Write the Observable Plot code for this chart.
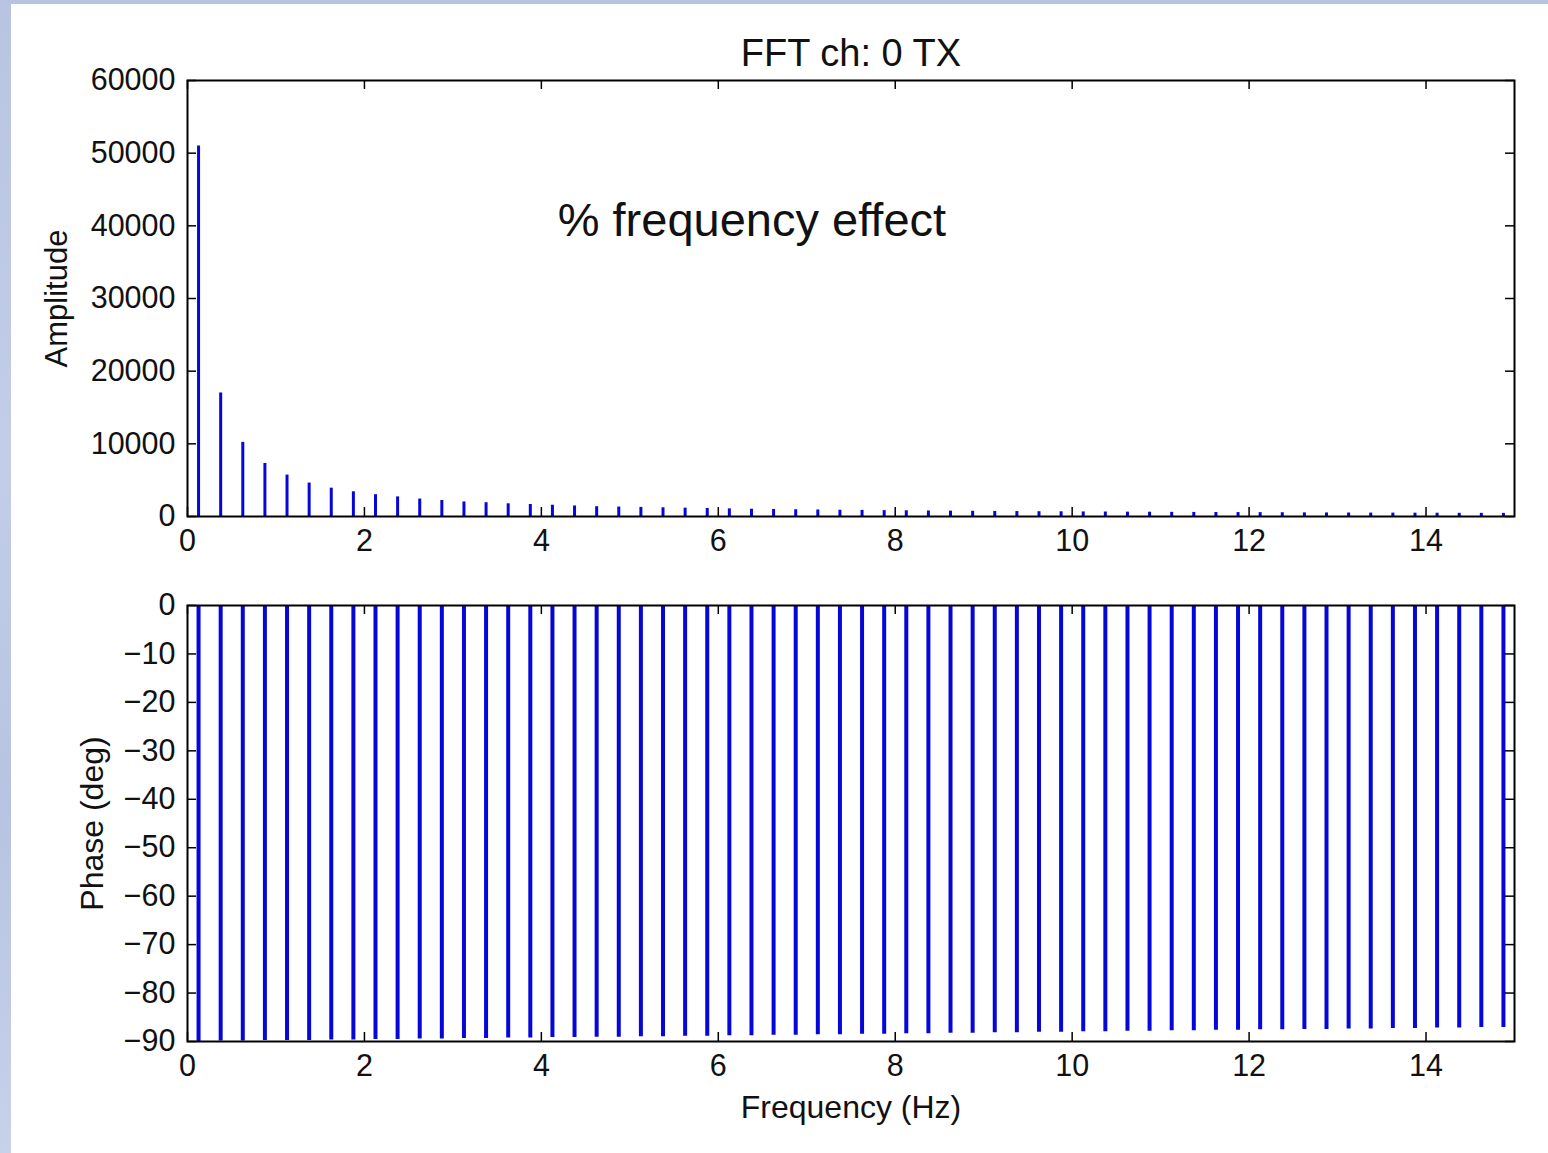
<!DOCTYPE html>
<html>
<head>
<meta charset="utf-8">
<script src="https://cdn.jsdelivr.net/npm/d3@7"></script>
<script src="https://cdn.jsdelivr.net/npm/@observablehq/plot@0.6"></script>
<style>
  html, body { margin: 0; padding: 0; }
  body { width: 1548px; height: 1153px; position: relative; overflow: hidden;
         background: linear-gradient(180deg, #b9c4e2 0%, #c3cde8 40%, #b7c3e2 70%, #c8d1ea 100%);
         font-family: "Liberation Sans", Arial, sans-serif; }
  #sheet { position: absolute; left: 11px; top: 4px; width: 1537px; height: 1149px; background: #ffffff; }
  .panel { position: absolute; left: 0; }
</style>
</head>
<body>
<div id="sheet"></div>
<div id="top" class="panel" style="top:0px"></div>
<div id="bottom" class="panel" style="top:560px"></div>
<script>
// ---- data ----
const freqHz = [
  0.125, 0.375, 0.625, 0.875, 1.125, 1.375, 1.625, 1.875, 2.125, 2.375,
  2.625, 2.875, 3.125, 3.375, 3.625, 3.875, 4.125, 4.375, 4.625, 4.875,
  5.125, 5.375, 5.625, 5.875, 6.125, 6.375, 6.625, 6.875, 7.125, 7.375,
  7.625, 7.875, 8.125, 8.375, 8.625, 8.875, 9.125, 9.375, 9.625, 9.875,
  10.125, 10.375, 10.625, 10.875, 11.125, 11.375, 11.625, 11.875, 12.125, 12.375,
  12.625, 12.875, 13.125, 13.375, 13.625, 13.875, 14.125, 14.375, 14.625, 14.875
];
const amplitude = [
  51000, 17000, 10200, 7300, 5700, 4600, 3900, 3400, 3000, 2700,
  2400, 2200, 2000, 1900, 1750, 1650, 1550, 1450, 1350, 1300,
  1250, 1200, 1150, 1100, 1050, 1000, 970, 930, 900, 860,
  840, 810, 790, 760, 740, 720, 700, 680, 660, 650,
  630, 620, 600, 590, 570, 560, 550, 540, 530, 520,
  500, 490, 480, 470, 465, 460, 450, 440, 435, 430
];
const phaseDeg = [
  -90.0, -89.9, -89.9, -89.8, -89.8, -89.8, -89.7, -89.7, -89.6, -89.6,
  -89.5, -89.5, -89.4, -89.4, -89.3, -89.3, -89.2, -89.2, -89.1, -89.1,
  -89.0, -89.0, -88.9, -88.9, -88.8, -88.8, -88.7, -88.7, -88.6, -88.6,
  -88.5, -88.5, -88.4, -88.4, -88.3, -88.3, -88.2, -88.2, -88.1, -88.1,
  -88.0, -88.0, -87.9, -87.9, -87.8, -87.8, -87.7, -87.7, -87.6, -87.6,
  -87.5, -87.5, -87.4, -87.4, -87.3, -87.3, -87.2, -87.2, -87.1, -87.1
];
const xTicks = [0, 2, 4, 6, 8, 10, 12, 14];
const ampTicks = [0, 10000, 20000, 30000, 40000, 50000, 60000];
const phaseTicks = [0, -10, -20, -30, -40, -50, -60, -70, -80, -90];
const titleText = "FFT ch: 0 TX";
const annotation = { text: "% frequency effect", freq: 6.38, amp: 40700 };
const xLabel = "Frequency (Hz)";
const ampLabel = "Amplitude";
const phaseLabel = "Phase (deg)";

const rows = freqHz.map((f, i) => ({ f, amp: amplitude[i], phase: phaseDeg[i] }));

// ---- styling ----
const FONT = "'Liberation Sans', Arial, sans-serif";
const STEM = "#0606d8";
const W = 1548, ML = 187, MR = 34;
const innerW = W - ML - MR;
const TICK = 9;
const TICKFONT = 30.5;
const minus = d => (d < 0 ? "\u2212" + Math.abs(d) : String(d));

function insideTicks(xt, yt, innerH) {
  return [
    Plot.tickX(xt, { x: d => d, insetTop: innerH - TICK, stroke: "black", strokeWidth: 1.5 }),
    Plot.tickX(xt, { x: d => d, insetBottom: innerH - TICK, stroke: "black", strokeWidth: 1.5 }),
    Plot.tickY(yt, { y: d => d, insetRight: innerW - TICK, stroke: "black", strokeWidth: 1.5 }),
    Plot.tickY(yt, { y: d => d, insetLeft: innerW - TICK, stroke: "black", strokeWidth: 1.5 })
  ];
}

// ---- top: amplitude ----
{
  const H = 600, MT = 80, MB = 84;
  const innerH = H - MT - MB;
  const chart = Plot.plot({
    width: W, height: H,
    marginLeft: ML, marginRight: MR, marginTop: MT, marginBottom: MB,
    style: { fontFamily: FONT, fontSize: TICKFONT + "px", color: "#111", background: "transparent", overflow: "visible" },
    x: { domain: [0, 15], label: null },
    y: { domain: [0, 60000], label: null },
    marks: [
      Plot.ruleX(rows, { x: "f", y1: 0, y2: "amp", stroke: STEM, strokeWidth: 3 }),
      ...insideTicks(xTicks, ampTicks, innerH),
      Plot.frame({ stroke: "black", strokeWidth: 2 }),
      Plot.axisX(xTicks, { anchor: "bottom", tickSize: 0, tickPadding: 13, fontSize: TICKFONT, tickFormat: minus }),
      Plot.axisY(ampTicks, { anchor: "left", tickSize: 0, tickPadding: 12, fontSize: TICKFONT, tickFormat: d => String(d) }),
      Plot.text([titleText], { text: d => d, frameAnchor: "top", lineAnchor: "middle", dy: -27, fontSize: 38, fill: "#111" }),
      Plot.text([annotation], { x: "freq", y: "amp", text: "text", fontSize: 47, fill: "#111" }),
      Plot.text([ampLabel], { text: d => d, frameAnchor: "left", textAnchor: "middle", rotate: -90, lineAnchor: "middle", dx: -130, fontSize: 31, fill: "#111" })
    ]
  });
  document.getElementById("top").appendChild(chart);
}

// ---- bottom: phase ----
{
  const H = 593, MT = 45, MB = 112;
  const innerH = H - MT - MB;
  const chart = Plot.plot({
    width: W, height: H,
    marginLeft: ML, marginRight: MR, marginTop: MT, marginBottom: MB,
    style: { fontFamily: FONT, fontSize: TICKFONT + "px", color: "#111", background: "transparent", overflow: "visible" },
    x: { domain: [0, 15], label: null },
    y: { domain: [-90, 0], label: null },
    marks: [
      Plot.ruleX(rows, { x: "f", y1: 0, y2: "phase", stroke: STEM, strokeWidth: 4 }),
      ...insideTicks(xTicks, phaseTicks, innerH),
      Plot.frame({ stroke: "black", strokeWidth: 2 }),
      Plot.axisX(xTicks, { anchor: "bottom", tickSize: 0, tickPadding: 13, fontSize: TICKFONT, tickFormat: minus }),
      Plot.axisY(phaseTicks, { anchor: "left", tickSize: 0, tickPadding: 12, fontSize: TICKFONT, tickFormat: minus }),
      Plot.text([xLabel], { text: d => d, frameAnchor: "bottom", lineAnchor: "middle", dy: 66, fontSize: 32, fill: "#111" }),
      Plot.text([phaseLabel], { text: d => d, frameAnchor: "left", textAnchor: "middle", rotate: -90, lineAnchor: "middle", dx: -95, fontSize: 32, fill: "#111" })
    ]
  });
  document.getElementById("bottom").appendChild(chart);
}
</script>
</body>
</html>
